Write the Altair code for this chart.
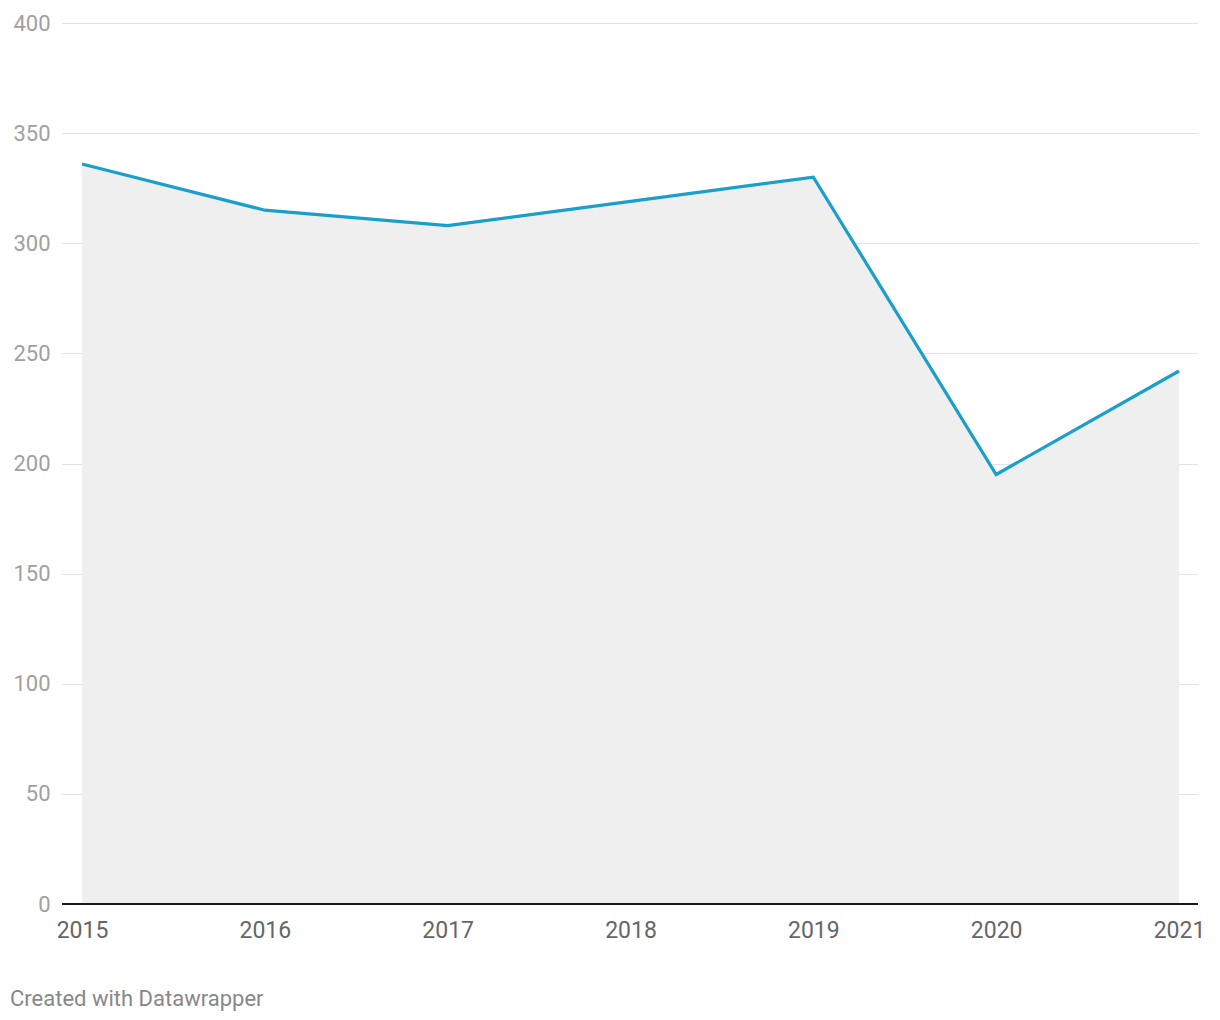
import altair as alt
import pandas as pd

years = [2015, 2016, 2017, 2018, 2019, 2020, 2021]
values = [336, 315, 308, 319, 330, 195, 242]
y_ticks = [0, 50, 100, 150, 200, 250, 300, 350, 400]

df = pd.DataFrame({"year": years, "value": values})

FONT = "Roboto"

x_enc = alt.X(
    "year:Q",
    scale=alt.Scale(domain=[2014.8906, 2021.1039], nice=False, zero=False),
    axis=alt.Axis(
        values=years, format="d", title=None, grid=False, ticks=False,
        domain=False,
        labelFont=FONT, labelFontSize=23, labelColor="#666666",
        labelPadding=15, labelFlush=False,
    ),
)
y_enc = alt.Y(
    "value:Q",
    scale=alt.Scale(domain=[0, 400], nice=False),
    axis=alt.Axis(
        values=y_ticks, title=None, grid=True, gridColor="#e2e2e2", gridWidth=1,
        ticks=False, domain=False, labelFont=FONT, labelFontSize=22,
        labelColor="#a0a0a0", labelPadding=12,
    ),
)

area = alt.Chart(df).mark_area(color="#efefef", opacity=1).encode(x=x_enc, y=y_enc)
line = alt.Chart(df).mark_line(color="#1a9fcb", strokeWidth=3.2).encode(x="year:Q", y="value:Q")

baseline = alt.Chart(pd.DataFrame({"v": [0]})).mark_rule(color="#1a1a1a", strokeWidth=2).encode(
    y="v:Q", x=alt.value(0), x2=alt.value(1136)
)

footer = alt.Chart(pd.DataFrame({"t": ["Created with Datawrapper"]})).mark_text(
    align="left", baseline="middle", font=FONT, fontSize=22, color="#888888"
).encode(x=alt.value(-52), y=alt.value(976), text="t:N")

chart = alt.layer(area, line, baseline, footer).properties(
    width=1136, height=881,
    background="white",
    autosize=alt.AutoSizeParams(type="none"),
    padding={"left": 62, "top": 23, "right": 22, "bottom": 116},
).configure_view(strokeWidth=0, stroke="transparent")

chart.save("out.html", embed_options={"renderer": "svg", "actions": False})
